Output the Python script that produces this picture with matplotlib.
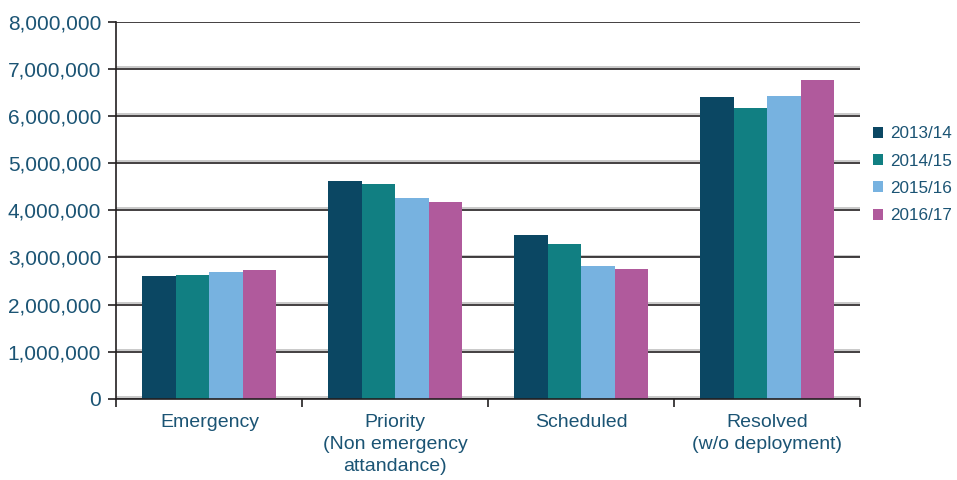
import matplotlib
matplotlib.use("Agg")
import matplotlib.pyplot as plt
import matplotlib.patheffects as pe
import numpy as np
from matplotlib.ticker import FuncFormatter

categories = ["Emergency", "Priority\n(Non emergency\nattandance)", "Scheduled", "Resolved\n(w/o deployment)"]
years = ["2013/14", "2014/15", "2015/16", "2016/17"]
v2013 = [2600000, 4610000, 3470000, 6390000]
v2014 = [2620000, 4550000, 3280000, 6160000]
v2015 = [2690000, 4250000, 2810000, 6430000]
v2016 = [2730000, 4170000, 2750000, 6750000]
series = [v2013, v2014, v2015, v2016]
colors = ["#0b4763", "#117f82", "#77b2e0", "#b05a9c"]
text_color = "#1b5474"

plt.rcParams['font.family'] = ['Liberation Sans', 'DejaVu Sans']

fig = plt.figure(figsize=(9.57, 4.8), dpi=100)
ax = fig.add_axes([0.1217, 0.16875, 0.8987 - 0.1217, 0.9552 - 0.16875])

x = np.arange(len(categories))
w = 0.18
for i, (vals, c, lab) in enumerate(zip(series, colors, years)):
    ax.bar(x + (i - 1.5) * w, vals, width=w, color=c, label=lab, zorder=3, linewidth=0)

ax.set_xlim(-0.5, 3.5)
ax.set_ylim(0, 8000000)
ax.set_yticks(np.arange(0, 8000001, 1000000))
ax.yaxis.set_major_formatter(FuncFormatter(lambda v, p: f"{int(v):,}"))
ax.set_xticks(x)
ax.set_xticklabels(categories)
ax.set_xticks(np.arange(-0.5, 3.6, 1.0), minor=True)
ax.tick_params(axis='x', which='major', length=0, pad=11, labelsize=14, labelcolor=text_color)
ax.tick_params(axis='x', which='minor', length=6, width=1.2, color='#231f20', direction='out')
ax.tick_params(axis='y', length=6, width=1.2, color='#231f20', direction='out', pad=5,
               labelsize=15, labelcolor=text_color)
for lbl in ax.get_xticklabels():
    lbl.set_linespacing(1.38)

ax.grid(axis='y', color='#231f20', linewidth=1.2, zorder=1)
for gl in ax.yaxis.get_gridlines():
    gl.set_path_effects([pe.SimpleLineShadow(offset=(0, 1.3), shadow_color='#c0c0c0', alpha=1.0),
                         pe.Normal()])
ax.set_axisbelow(True)

for s in ['top', 'right']:
    ax.spines[s].set_visible(False)
for s in ['left', 'bottom']:
    ax.spines[s].set_color('#231f20')
    ax.spines[s].set_linewidth(1.2)
    ax.spines[s].set_zorder(4)

leg = fig.legend(loc='center left', bbox_to_anchor=(0.905, 0.636), frameon=False,
                 fontsize=12.3, handlelength=0.6, handleheight=0.6, handletextpad=0.4,
                 labelspacing=0.72, borderaxespad=0)
for t in leg.get_texts():
    t.set_color(text_color)

fig.savefig("out.png", dpi=100)
